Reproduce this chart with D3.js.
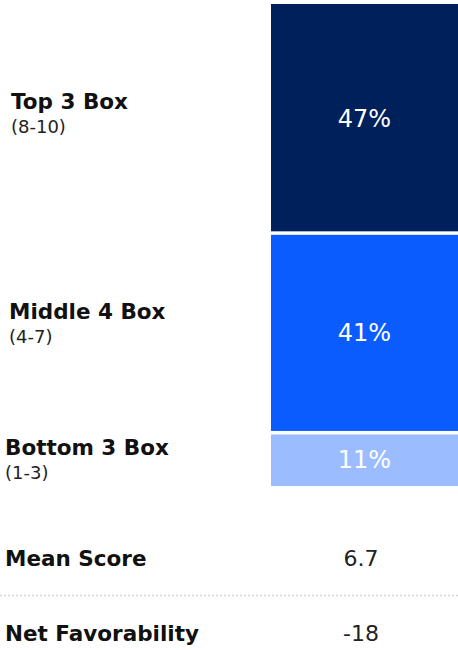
<!DOCTYPE html>
<html>
<head>
	<meta charset="utf-8">
	<script src="https://cdn.jsdelivr.net/npm/d3@7"></script>
	<style>
		body { margin: 0; background: #fff; }
		svg { display: block; font-family: "DejaVu Sans", sans-serif; }
	</style>
</head>
<body>
	<svg width="458" height="650"></svg>
	<script type="text/javascript">
		// data
		var categories = ["Top 3 Box", "Middle 4 Box", "Bottom 3 Box"];
		var ranges = ["(8-10)", "(4-7)", "(1-3)"];
		var values = [47, 41, 11];
		var summaryLabels = ["Mean Score", "Net Favorability"];
		var summaryValues = ["6.7", "-18"];

		var colors = ["#00205b", "#0a5cff", "#9bbdff"];

		var svg = d3.select("svg"),
			width = +svg.attr("width"),
			height = +svg.attr("height");

		// stack the boxes top to bottom
		var rows = [], acc = 0;
		values.forEach(function(v, i) {
			rows.push({ key: categories[i], range: ranges[i], value: v, y0: acc, y1: acc + v, i: i });
			acc += v;
		});

		var y = d3.scaleLinear().domain([0, d3.sum(values)]).range([4, 486]);
		var x0 = 271, x1 = width;

		// label nudges so the text sits where it does in the original
		var titleDy = [-9, -14, -4], titleDx = [11, 9, 5];

		var bars = svg.append("g").selectAll("g").data(rows).enter().append("g");

		bars.append("rect")
			.attr("x", x0)
			.attr("width", x1 - x0)
			.attr("y", function(d) { return y(d.y0) + (d.i ? 2 : 0); })
			.attr("height", function(d) { return y(d.y1) - y(d.y0) - (d.i ? 2 : 0) - (d.i < rows.length - 1 ? 1.5 : 0); })
			.attr("fill", function(d) { return colors[d.i]; });

		bars.append("text")
			.attr("x", (x0 + x1) / 2)
			.attr("y", function(d) { return (y(d.y0) + y(d.y1)) / 2; })
			.attr("dy", "0.36em")
			.attr("text-anchor", "middle")
			.attr("fill", "#fff")
			.attr("font-size", 24)
			.text(function(d) { return d.value + "%"; });

		bars.append("text")
			.attr("x", function(d) { return titleDx[d.i]; })
			.attr("y", function(d) { return (y(d.y0) + y(d.y1)) / 2 + titleDy[d.i]; })
			.attr("font-size", 21.5)
			.attr("font-weight", "bold")
			.attr("fill", "#111")
			.text(function(d) { return d.key; });

		bars.append("text")
			.attr("x", function(d) { return titleDx[d.i]; })
			.attr("y", function(d) { return (y(d.y0) + y(d.y1)) / 2 + titleDy[d.i] + 24; })
			.attr("font-size", 18)
			.attr("fill", "#222")
			.text(function(d) { return d.range; });

		// summary rows
		var sy = d3.scalePoint().domain(summaryLabels).range([566, 641]);

		svg.append("line")
			.attr("x1", 0).attr("x2", width)
			.attr("y1", 595.5).attr("y2", 595.5)
			.attr("stroke", "#d4d4d4")
			.attr("stroke-width", 1.5)
			.attr("stroke-dasharray", "2,2");

		var summary = svg.append("g").selectAll("g").data(summaryLabels).enter().append("g");
		summary.append("text")
			.attr("x", 5)
			.attr("y", function(d) { return sy(d); })
			.attr("font-size", 21.5)
			.attr("font-weight", "bold")
			.attr("fill", "#111")
			.text(function(d) { return d; });
		summary.append("text")
			.attr("x", 361)
			.attr("y", function(d) { return sy(d); })
			.attr("text-anchor", "middle")
			.attr("font-size", 22)
			.attr("fill", "#222")
			.text(function(d, i) { return summaryValues[i]; });
	</script>
</body>
</html>
